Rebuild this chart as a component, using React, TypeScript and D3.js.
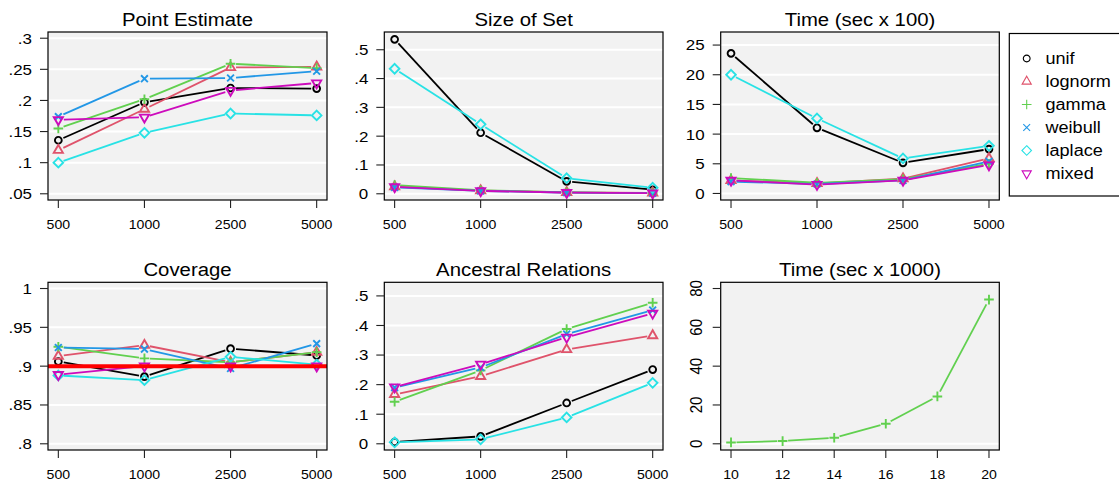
import React from 'react';
import * as d3 from 'd3';

// ---------- data ----------
const sizeLabels = ["500", "1000", "2500", "5000"];
const seriesNames = ["unif", "lognorm", "gamma", "weibull", "laplace", "mixed"];
const seriesColors = ["#000000", "#DF536B", "#61D04F", "#2297E6", "#28E2E5", "#CD0BBC"];
const seriesShapes = ["circle", "triangle", "plus", "cross", "diamond", "triangleDown"];

const pointEstimate = [
  [0.136, 0.197, 0.220, 0.219],
  [0.120, 0.186, 0.253, 0.254],
  [0.155, 0.202, 0.259, 0.252],
  [0.174, 0.235, 0.236, 0.247],
  [0.100, 0.148, 0.179, 0.176],
  [0.169, 0.173, 0.216, 0.228],
];
const sizeOfSet = [
  [0.536, 0.212, 0.043, 0.014],
  [0.025, 0.011, 0.005, 0.003],
  [0.030, 0.012, 0.005, 0.002],
  [0.022, 0.010, 0.004, 0.002],
  [0.434, 0.241, 0.054, 0.021],
  [0.024, 0.010, 0.004, 0.002],
];
const time100 = [
  [23.6, 11.06, 5.16, 7.47],
  [2.2, 1.7, 2.5, 5.9],
  [2.6, 1.8, 2.4, 5.0],
  [2.0, 1.6, 2.2, 5.4],
  [20.0, 12.64, 5.9, 8.03],
  [2.2, 1.5, 2.2, 4.8],
];
const coverage = [
  [0.906, 0.8865, 0.9225, 0.9138],
  [0.913, 0.927, 0.905, 0.918],
  [0.925, 0.910, 0.905, 0.918],
  [0.924, 0.922, 0.897, 0.929],
  [0.888, 0.882, 0.912, 0.902],
  [0.889, 0.900, 0.900, 0.900],
];
const ancestral = [
  [0.006, 0.025, 0.138, 0.251],
  [0.167, 0.228, 0.319, 0.366],
  [0.142, 0.248, 0.388, 0.477],
  [0.190, 0.258, 0.371, 0.452],
  [0.005, 0.015, 0.089, 0.206],
  [0.192, 0.269, 0.360, 0.441],
];
const time1000X = [10, 12, 14, 16, 18, 20];
const time1000Y = [0.7, 1.4, 3.1, 10.3, 24.4, 74.3];

const ticksPoint = [0.05, 0.1, 0.15, 0.2, 0.25, 0.3];
const ticksPointLabels = [".05", ".1", ".15", ".2", ".25", ".3"];
const ticksProp = [0, 0.1, 0.2, 0.3, 0.4, 0.5];
const ticksPropLabels = ["0", ".1", ".2", ".3", ".4", ".5"];
const ticksTime100 = [0, 5, 10, 15, 20, 25];
const ticksTime100Labels = ["0", "5", "10", "15", "20", "25"];
const ticksCoverage = [0.8, 0.85, 0.9, 0.95, 1];
const ticksCoverageLabels = [".8", ".85", ".9", ".95", "1"];
const ticksTime1000 = [0, 20, 40, 60, 80];
const ticksTime1000Labels = ["0", "20", "40", "60", "80"];
const coverageTarget = 0.9;

// ---------- style ----------
const SX = 1.13;
const FONT = "'Liberation Sans', Arial, Helvetica, sans-serif";
const BG = "#F2F2F2";
const R = 3.4;
const GAP = 5.5;

function markerPath(shape: string, r: number): string {
  const s2 = Math.SQRT2 * r;
  const tr0 = 1.5551 * r, tr2 = 0.7776 * r, tr1 = 1.3468 * r;
  switch (shape) {
    case "circle":
      return `M${r},0A${r},${r} 0 1,1 ${-r},0A${r},${r} 0 1,1 ${r},0Z`;
    case "triangle":
      return `M0,${-tr0}L${tr1},${tr2}L${-tr1},${tr2}Z`;
    case "triangleDown":
      return `M0,${tr0}L${tr1},${-tr2}L${-tr1},${-tr2}Z`;
    case "plus":
      return `M${-s2},0L${s2},0M0,${-s2}L0,${s2}`;
    case "cross":
      return `M${-r},${-r}L${r},${r}M${-r},${r}L${r},${-r}`;
    case "diamond":
      return `M0,${-s2}L${s2},0L0,${s2}L${-s2},0Z`;
  }
  return "";
}

function T(props: { x: number; y: number; size: number; anchor?: string; rotate?: boolean; dy?: string; children: any }) {
  const { x, y, size, anchor = "middle", rotate = false, dy, children } = props;
  const tr = `translate(${x},${y}) scale(${SX},1)` + (rotate ? " rotate(-90)" : "");
  return (
    <text transform={tr} fontSize={size} textAnchor={anchor} fontFamily={FONT} dy={dy} fill="#000">
      {children}
    </text>
  );
}

type Series = { xs: number[]; ys: number[]; color: string; shape: string };

function Panel(props: {
  left: number; right: number; top: number; bottom: number; title: string; titleY: number;
  xTicks: number[]; xTickLabels: string[]; xDomain: [number, number];
  yDomain: [number, number]; yTicks: number[]; yTickLabels: string[];
  gridTicks: number[]; series: Series[]; rotateY?: boolean; refLine?: number;
}) {
  const { left, right, top, bottom, title, titleY, xTicks, xTickLabels, xDomain, yDomain, yTicks, yTickLabels, gridTicks, series, rotateY, refLine } = props;
  const x = d3.scaleLinear().domain(xDomain).range([left, right]);
  const y = d3.scaleLinear().domain(yDomain).range([bottom, top]);
  const tickLen = 8;

  const segsFor = (s: Series, si: number) => {
    const out: any[] = [];
    for (let i = 0; i < s.xs.length - 1; i++) {
      const x0 = x(s.xs[i]), y0 = y(s.ys[i]), x1 = x(s.xs[i + 1]), y1 = y(s.ys[i + 1]);
      const d = Math.hypot(x1 - x0, y1 - y0);
      if (d <= 2 * GAP) continue;
      const ux = (x1 - x0) / d, uy = (y1 - y0) / d;
      out.push(
        <line key={`s${si}-${i}`} x1={x0 + ux * GAP} y1={y0 + uy * GAP} x2={x1 - ux * GAP} y2={y1 - uy * GAP}
          stroke={s.color} strokeWidth={1.8} />
      );
    }
    return out;
  };

  return (
    <g>
      <rect x={left} y={top} width={right - left} height={bottom - top} fill={BG} />
      {gridTicks.map((t, i) => (
        <line key={`g${i}`} x1={left} x2={right} y1={y(t)} y2={y(t)} stroke="#fff" strokeWidth={2} />
      ))}
      {series.map((s, si) => (
        <g key={`ser${si}`}>
          {segsFor(s, si)}
          {s.xs.map((xv, i) => (
            <path key={`m${i}`} d={markerPath(s.shape, R)} transform={`translate(${x(xv)},${y(s.ys[i])})`}
              fill="none" stroke={s.color} strokeWidth={1.9} />
          ))}
        </g>
      ))}
      {refLine !== undefined && (
        <line x1={left} x2={right} y1={y(refLine)} y2={y(refLine)} stroke="#FF0000" strokeWidth={4} />
      )}
      <rect x={left} y={top} width={right - left} height={bottom - top} fill="none" stroke="#000" strokeWidth={1.2} />
      {yTicks.map((t, i) => (
        <g key={`yt${i}`}>
          <line x1={left - tickLen} x2={left} y1={y(t)} y2={y(t)} stroke="#222" strokeWidth={1.1} />
          {rotateY ? (
            <T x={left - 19} y={y(t)} size={15} rotate>{yTickLabels[i]}</T>
          ) : (
            <T x={left - 16} y={y(t)} size={15} anchor="end" dy="0.36em">{yTickLabels[i]}</T>
          )}
        </g>
      ))}
      {xTicks.map((t, i) => (
        <g key={`xt${i}`}>
          <line x1={x(t)} x2={x(t)} y1={bottom} y2={bottom + tickLen} stroke="#222" strokeWidth={1.1} />
          <T x={x(t)} y={bottom + 28.5} size={12.5}>{xTickLabels[i]}</T>
        </g>
      ))}
      <T x={(left + right) / 2} y={titleY} size={18}>{title}</T>
    </g>
  );
}

const catIdx = sizeLabels.map((_, i) => i + 1);
const catDomain: [number, number] = [0.88, 4.12];

function mkSeries(data: number[][]): Series[] {
  return data.map((vals, i) => ({ xs: catIdx, ys: vals, color: seriesColors[i], shape: seriesShapes[i] }));
}

export default function App() {
  const cols = [[48, 327], [384.3, 663], [720.7, 999.3]];
  const rows = [[32, 200], [282.3, 450]];
  const titleYs = [26, 276];
  return (
    <svg width={1119} height={481} style={{ position: "absolute", left: 0, top: 0, background: "#fff" }}>
      <rect x={0} y={0} width={1119} height={481} fill="#fff" />
      <Panel left={cols[0][0]} right={cols[0][1]} top={rows[0][0]} bottom={rows[0][1]} titleY={titleYs[0]}
        title="Point Estimate" xTicks={catIdx} xTickLabels={sizeLabels} xDomain={catDomain}
        yDomain={[0.04, 0.31]} yTicks={ticksPoint} yTickLabels={ticksPointLabels} gridTicks={ticksPoint}
        series={mkSeries(pointEstimate)} />
      <Panel left={cols[1][0]} right={cols[1][1]} top={rows[0][0]} bottom={rows[0][1]} titleY={titleYs[0]}
        title="Size of Set" xTicks={catIdx} xTickLabels={sizeLabels} xDomain={catDomain}
        yDomain={[-0.0216, 0.5616]} yTicks={ticksProp} yTickLabels={ticksPropLabels} gridTicks={ticksProp}
        series={mkSeries(sizeOfSet)} />
      <Panel left={cols[2][0]} right={cols[2][1]} top={rows[0][0]} bottom={rows[0][1]} titleY={titleYs[0]}
        title="Time (sec x 100)" xTicks={catIdx} xTickLabels={sizeLabels} xDomain={catDomain}
        yDomain={[-1.1, 27.2]} yTicks={ticksTime100} yTickLabels={ticksTime100Labels} gridTicks={ticksTime100}
        series={mkSeries(time100)} />
      <Panel left={cols[0][0]} right={cols[0][1]} top={rows[1][0]} bottom={rows[1][1]} titleY={titleYs[1]}
        title="Coverage" xTicks={catIdx} xTickLabels={sizeLabels} xDomain={catDomain}
        yDomain={[0.792, 1.008]} yTicks={ticksCoverage} yTickLabels={ticksCoverageLabels} gridTicks={ticksCoverage}
        series={mkSeries(coverage)} refLine={coverageTarget} />
      <Panel left={cols[1][0]} right={cols[1][1]} top={rows[1][0]} bottom={rows[1][1]} titleY={titleYs[1]}
        title="Ancestral Relations" xTicks={catIdx} xTickLabels={sizeLabels} xDomain={catDomain}
        yDomain={[-0.021, 0.546]} yTicks={ticksProp} yTickLabels={ticksPropLabels} gridTicks={ticksProp}
        series={mkSeries(ancestral)} />
      <Panel left={cols[2][0]} right={cols[2][1]} top={rows[1][0]} bottom={rows[1][1]} titleY={titleYs[1]}
        title="Time (sec x 1000)" xTicks={time1000X} xTickLabels={time1000X.map(String)} xDomain={[9.6, 20.4]}
        yDomain={[-3.2, 83.2]} yTicks={ticksTime1000} yTickLabels={ticksTime1000Labels} gridTicks={[0]}
        series={[{ xs: time1000X, ys: time1000Y, color: seriesColors[2], shape: seriesShapes[2] }]} rotateY />
      {/* legend */}
      <g>
        <rect x={1009.3} y={33.5} width={130} height={162.5} fill="#fff" stroke="#000" strokeWidth={1.2} />
        {seriesNames.map((n, i) => {
          const cy = 58.5 + i * 23;
          return (
            <g key={n}>
              <path d={markerPath(seriesShapes[i], R)} transform={`translate(1026.7,${cy})`} fill="none"
                stroke={seriesColors[i]} strokeWidth={1.1} />
              <T x={1045.5} y={cy} size={16} anchor="start" dy="0.36em">{n}</T>
            </g>
          );
        })}
      </g>
    </svg>
  );
}
